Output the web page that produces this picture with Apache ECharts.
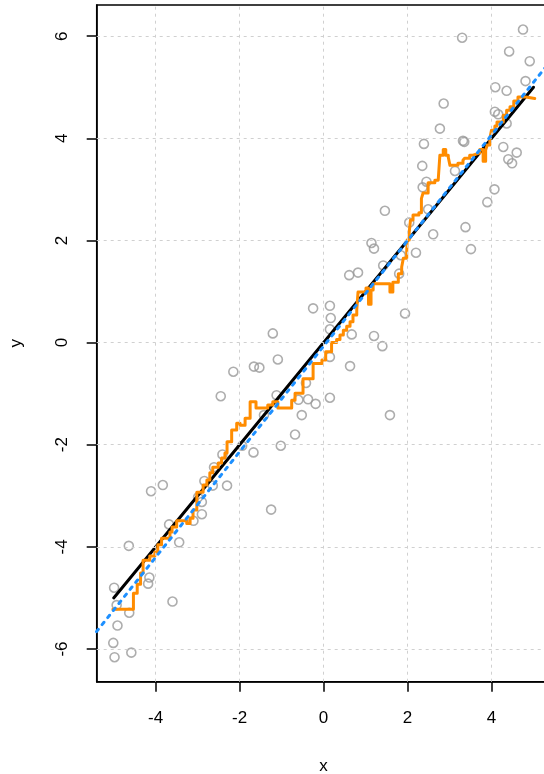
<!DOCTYPE html>
<html><head><meta charset="utf-8">
<script src="https://cdn.jsdelivr.net/npm/echarts@6/dist/echarts.min.js"></script>
<style>html,body{margin:0;padding:0;background:#fff}#c{width:544px;height:774px}</style>
</head><body><div id="c"></div>
<script>
const pointX = [4.75,3.30,4.42,4.91,4.81,4.09,4.36,2.86,4.08,4.16,4.36,2.77,2.39,3.32,3.35,4.28,4.60,4.40,4.49,2.35,3.13,2.45,2.36,4.07,3.90,2.49,1.46,2.04,2.61,3.38,1.14,1.20,2.20,3.51,1.84,1.42,1.80,0.61,0.82,1.94,-0.25,0.15,0.17,0.15,-1.21,0.67,1.20,1.40,0.15,-1.09,-1.66,-1.53,0.63,-0.42,-1.12,-0.60,-0.37,-0.19,0.15,-0.52,1.58,-1.42,-0.68,-1.02,-1.67,-1.94,-2.41,-2.15,-2.45,-1.25,-2.61,-2.84,-2.64,-2.30,-2.99,-2.90,-2.90,-3.10,-3.68,-3.44,-4.64,-4.15,-4.18,-4.99,-4.93,-4.63,-3.60,-4.91,-5.01,-4.58,-4.98,-4.11,-3.83];
const pointY = [6.13,5.97,5.70,5.51,5.12,5.00,4.93,4.68,4.52,4.47,4.29,4.19,3.89,3.95,3.93,3.83,3.72,3.59,3.51,3.46,3.36,3.15,3.04,3.00,2.75,2.61,2.58,2.35,2.12,2.26,1.95,1.84,1.76,1.83,1.71,1.51,1.35,1.32,1.37,0.57,0.67,0.72,0.48,0.26,0.18,0.16,0.13,-0.07,-0.28,-0.33,-0.47,-0.49,-0.46,-0.79,-1.03,-1.12,-1.11,-1.20,-1.08,-1.42,-1.42,-1.42,-1.80,-2.02,-2.15,-2.02,-2.19,-0.57,-1.05,-3.27,-2.44,-2.71,-2.80,-2.80,-3.03,-3.12,-3.36,-3.49,-3.56,-3.91,-3.98,-4.60,-4.72,-4.80,-5.14,-5.29,-5.07,-5.54,-5.88,-6.07,-6.16,-2.91,-2.79];
const stepX = [-5.02,-4.53,-4.44,-4.36,-4.30,-4.14,-4.02,-3.95,-3.86,-3.66,-3.61,-3.50,-3.26,-3.18,-3.11,-3.02,-2.87,-2.78,-2.71,-2.64,-2.51,-2.43,-2.35,-2.30,-2.19,-2.07,-1.99,-1.87,-1.75,-1.61,-1.33,-1.21,-1.09,-0.76,-0.68,-0.49,-0.25,-0.04,0.05,0.19,0.31,0.39,0.47,0.55,0.63,0.70,0.79,0.82,1.01,1.07,1.13,1.18,1.58,1.65,1.78,1.86,1.90,1.98,1.99,2.04,2.07,2.13,2.27,2.33,2.37,2.49,2.65,2.73,2.77,2.85,2.91,2.97,3.01,3.20,3.32,3.36,3.48,3.56,3.67,3.72,3.80,3.86,3.90,3.96,4.00,4.08,4.13,4.28,4.36,4.44,4.53,4.63,4.82,5.03];
const stepY = [-5.22,-4.91,-4.73,-4.51,-4.26,-4.18,-4.10,-3.96,-3.83,-3.71,-3.61,-3.49,-3.54,-3.44,-3.28,-2.93,-2.79,-2.69,-2.55,-2.44,-2.36,-2.26,-2.16,-1.94,-1.71,-1.58,-1.62,-1.48,-1.16,-1.28,-1.22,-1.16,-1.28,-1.13,-0.99,-0.71,-0.41,-0.34,-0.18,0.00,0.06,0.15,0.24,0.32,0.41,0.54,0.64,0.99,1.07,0.75,1.03,1.15,0.99,1.18,1.35,1.48,1.65,1.78,2.01,2.17,2.40,2.50,2.54,2.82,2.93,3.13,3.18,3.21,3.67,3.78,3.67,3.63,3.47,3.51,3.57,3.61,3.67,3.70,3.71,3.78,3.55,3.77,3.87,4.00,4.16,4.24,4.32,4.45,4.55,4.62,4.73,4.81,4.78,4.78];
const trueX = [-5, 5];
const trueY = [-5, 5];
const fitX = [-5.41, 5.41];
const fitY = [-5.66, 5.52];
const xTicks = [-4, -2, 0, 2, 4];
const yTicks = [-6, -4, -2, 0, 2, 4, 6];
const xRange = [-5.405, 5.405];
const yRange = [-6.64, 6.61];

const zip = (a, b) => a.map((v, i) => [v, b[i]]);
const font = 'Liberation Sans, Arial, Helvetica, sans-serif';
const gridStyle = {color: '#d0d0d0', width: 1, type: [3, 4]};

const chart = echarts.init(document.getElementById('c'), null, {renderer: 'canvas'});
chart.setOption({
  animation: false,
  backgroundColor: '#fff',
  grid: {left: 96.7, top: 5, width: 453.8, height: 676.7, outerBoundsMode: 'none', containLabel: false,
         show: true, borderColor: '#000', borderWidth: 1.5, backgroundColor: 'transparent'},
  xAxis: {
    type: 'value', min: xRange[0], max: xRange[1],
    axisLine: {show: true, onZero: false, lineStyle: {color: '#000', width: 1.5}},
    axisTick: {show: true, customValues: xTicks, length: 10, lineStyle: {color: '#000', width: 1.5}},
    axisLabel: {customValues: xTicks, margin: 28, fontSize: 17, color: '#000', fontFamily: font},
    splitLine: {show: false},
    name: 'x', nameLocation: 'middle', nameGap: 76,
    nameTextStyle: {fontSize: 17, color: '#000', fontFamily: font}
  },
  yAxis: {
    type: 'value', min: yRange[0], max: yRange[1],
    axisLine: {show: true, onZero: false, lineStyle: {color: '#000', width: 1.5}},
    axisTick: {show: true, customValues: yTicks, length: 10, lineStyle: {color: '#000', width: 1.5}},
    axisLabel: {customValues: yTicks, margin: 26, rotate: 90, fontSize: 17, color: '#000', fontFamily: font},
    splitLine: {show: false},
    name: 'y', nameLocation: 'middle', nameGap: 72,
    nameTextStyle: {fontSize: 17, color: '#000', fontFamily: font}
  },
  series: [
    {
      type: 'line', data: [], z: 1, silent: true,
      markLine: {
        silent: true, symbol: ['none', 'none'], label: {show: false},
        lineStyle: gridStyle, emphasis: {disabled: true},
        data: xTicks.map(v => ({xAxis: v})).concat(yTicks.map(v => ({yAxis: v})))
      }
    },
    {
      type: 'scatter', z: 2, data: zip(pointX, pointY), symbol: 'circle', symbolSize: 9,
      itemStyle: {color: 'rgba(0,0,0,0)', borderColor: '#999999', borderWidth: 1.6}
    },
    {
      type: 'line', z: 3, data: zip(trueX, trueY), showSymbol: false,
      lineStyle: {color: '#000', width: 3, cap: 'round'}
    },
    {
      type: 'line', z: 4, data: zip(stepX, stepY), step: 'end', showSymbol: false,
      lineStyle: {color: '#FF8C00', width: 3, join: 'round', cap: 'round'}
    },
    {
      type: 'line', z: 5, data: zip(fitX, fitY), showSymbol: false,
      lineStyle: {color: '#1E90FF', width: 3, type: [3, 6], cap: 'round'}
    }
  ]
});
</script>
</body></html>
